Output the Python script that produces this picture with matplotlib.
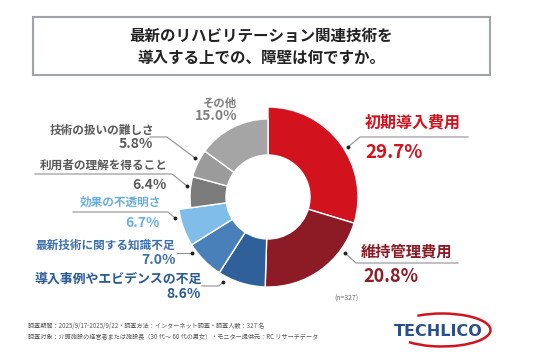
import matplotlib
matplotlib.use('Agg')
import matplotlib.pyplot as plt
from matplotlib.patches import Rectangle, Arc

plt.rcParams['font.family'] = ['Noto Sans CJK JP', 'DejaVu Sans']

# データ
labels = ['初期導入費用', '維持管理費用', '導入事例やエビデンスの不足', '最新技術に関する知識不足',
          '効果の不透明さ', '利用者の理解を得ること', '技術の扱いの難しさ', 'その他']
values = [29.7, 20.8, 8.6, 7.0, 6.7, 6.4, 5.8, 15.0]
colors = ['#D2131E', '#8C1B26', '#2F6099', '#4A80B9', '#80BDE9', '#7B7B7B', '#9B9B9B', '#A5A5A5']
text_colors = ['#D2131E', '#8C1B26', '#2A5A96', '#3D6FAF', '#6AAEE0', '#5A5A5A', '#5A5A5A', '#7F7F7F']
title = '最新のリハビリテーション関連技術を\n導入する上での、障壁は何ですか。'
note1 = '調査期間：2025/9/17-2025/9/22・調査方法：インターネット調査・調査人数：327 名'
note2 = '調査対象：介護施設の経営者または施設長（30 代～ 60 代の男女）・モニター提供元：RC リサーチデータ'

W, H = 536, 357
fig = plt.figure(figsize=(W / 100, H / 100), dpi=100)
ax = fig.add_axes([0, 0, 1, 1])

def Y(y):  # 画像のy座標 -> データ座標
    return H - y

# ドーナツ
cx, cy = 268, Y(197)
wedges, _ = ax.pie(values, colors=colors, startangle=90, counterclock=False,
                   radius=90, center=(cx, cy),
                   wedgeprops=dict(width=48, edgecolor='white', linewidth=1))
for w, c in zip(wedges, colors):
    if c in ('#7B7B7B', '#9B9B9B', '#A5A5A5'):
        w.set_radius(78)
        w.set_width(36)

ax.set_xlim(0, W)
ax.set_ylim(0, H)
ax.set_aspect('equal')
ax.axis('off')

# タイトル枠
ax.add_patch(Rectangle((33, Y(75)), 457, 58, fill=False, edgecolor='#A0A3A8', linewidth=1.5))
ax.text(261, Y(46.5), title, ha='center', va='center', fontsize=11.2, fontweight='bold',
        color='#222222', linespacing=1.45)

def leader(pts, dot):
    xs = [p[0] for p in pts]
    ys = [Y(p[1]) for p in pts]
    ax.plot(xs, ys, color='#909090', linewidth=0.8)
    ax.plot(dot[0], Y(dot[1]), 'o', color='#222222', markersize=1.8)

# 右側ラベル
ax.text(365, Y(123), labels[0], color=text_colors[0], fontsize=11.5, fontweight='bold', va='center')
ax.text(365, Y(152), f'{values[0]}%', color=text_colors[0], fontsize=13.5, fontweight='bold', va='center')
leader([(348, 147), (360, 137), (468, 137)], (348, 147))

ax.text(361, Y(252), labels[1], color=text_colors[1], fontsize=11, fontweight='bold', va='center')
ax.text(363, Y(277), f'{values[1]}%', color=text_colors[1], fontsize=13, fontweight='bold', va='center')
leader([(345, 253), (356, 263), (458, 263)], (345, 253))

# 左側ラベル
ax.text(202, Y(279), labels[2], color=text_colors[2], fontsize=9.3, fontweight='bold', ha='right', va='center')
ax.text(201, Y(294), f'{values[2]}%', color=text_colors[2], fontsize=10, fontweight='bold', ha='right', va='center')
leader([(202, 286), (219, 286), (223, 282)], (223, 282))

ax.text(175, Y(245), labels[3], color=text_colors[3], fontsize=8.4, fontweight='bold', ha='right', va='center')
ax.text(176, Y(260), f'{values[3]}%', color=text_colors[3], fontsize=10, fontweight='bold', ha='right', va='center')
leader([(177, 253), (192, 253)], (192, 253))

ax.text(161, Y(202), labels[4], color=text_colors[4], fontsize=8.4, fontweight='bold', ha='right', va='center')
ax.text(160, Y(223), f'{values[4]}%', color=text_colors[4], fontsize=10, fontweight='bold', ha='right', va='center')
leader([(73, 212), (168, 212), (175, 218)], (175, 218))

ax.text(168, Y(165), labels[5], color=text_colors[5], fontsize=8.4, fontweight='bold', ha='right', va='center')
ax.text(167, Y(185), f'{values[5]}%', color=text_colors[5], fontsize=10, fontweight='bold', ha='right', va='center')
leader([(35, 174), (172, 174), (187, 186)], (187, 186))

ax.text(154, Y(130), labels[6], color=text_colors[6], fontsize=8.4, fontweight='bold', ha='right', va='center')
ax.text(153, Y(144), f'{values[6]}%', color=text_colors[6], fontsize=10, fontweight='bold', ha='right', va='center')
leader([(150, 137), (167, 137), (195, 158)], (195, 158))

ax.text(237, Y(103), labels[7], color=text_colors[7], fontsize=8.2, fontweight='bold', ha='right', va='center')
ax.text(237, Y(116), f'{values[7]}%', color=text_colors[7], fontsize=10, fontweight='bold', ha='right', va='center')

ax.text(346, Y(299), '(n=327)', color='#666666', fontsize=5, ha='center', va='center')

# 注記
ax.text(28, Y(326), note1, color='#555555', fontsize=4.4, va='center')
ax.text(28, Y(337), note2, color='#555555', fontsize=4.4, va='center')

# ロゴ
ax.text(438, Y(332), 'TECHLICO', color='#2B4F8E', fontsize=11.5, fontweight='bold',
        ha='center', va='center', family='DejaVu Sans')
ax.add_patch(Arc((442, Y(330)), 97, 33, theta1=-160, theta2=150, color='#D2131E', linewidth=1.8))

fig.savefig('out.png', dpi=100, facecolor='white')
